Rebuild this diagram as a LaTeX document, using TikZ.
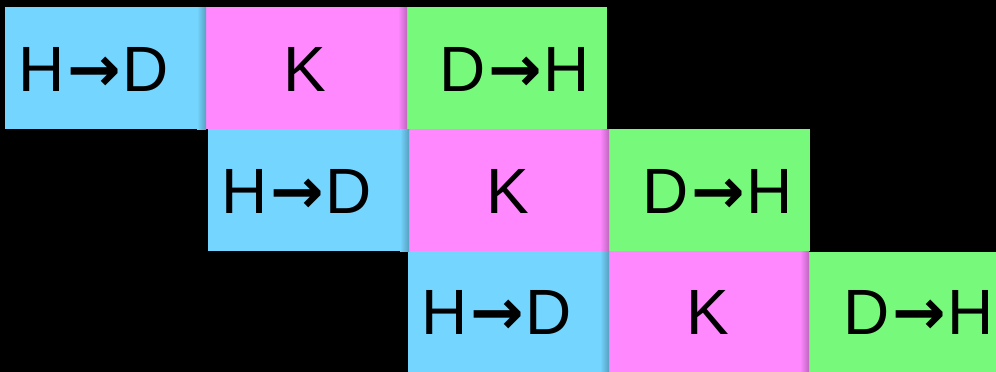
\documentclass[tikz,border=0pt]{standalone}
\usepackage{fontspec}
\setmainfont{Liberation Sans}
\newfontfamily\arrowfont{DejaVu Sans Bold}
\definecolor{cblue}{HTML}{74D5FF}
\definecolor{cpink}{HTML}{FF88FF}
\definecolor{cgreen}{HTML}{77FA7B}
\tikzset{
  cell/.style={draw=none, minimum width=200pt, minimum height=122pt, inner sep=0pt, outer sep=0pt, anchor=north west},
  lbl/.style={font=\fontsize{64pt}{64pt}\selectfont, text=black, inner sep=0pt},
}
\newcommand{\cellshadow}[2]{%
  \shade[left color=#2, right color=#2!75!black] ([xshift=-9pt]#1.north east) rectangle (#1.south east);
}
\newcommand{\lblHtoD}{H\kern2pt{\arrowfont →}\kern2pt D}
\newcommand{\lblDtoH}{D\kern2pt{\arrowfont →}\kern2pt H}
\begin{document}
\begin{tikzpicture}[x=1pt,y=-1pt]
\fill[black] (0,0) rectangle (996,372);
\useasboundingbox (0,0) rectangle (996,372);
% row 1
\node[cell, fill=cblue, minimum width=201pt] (b1) at (5,7) {};
\node[cell, fill=cpink, minimum width=201pt] (p1) at (206,7) {};
\node[cell, fill=cgreen, minimum width=201pt] (g1) at (406,7) {};
% row 2
\node[cell, fill=cblue, minimum width=201pt] (b2) at (208,129) {};
\node[cell, fill=cpink, minimum width=200pt] (p2) at (409,129) {};
\node[cell, fill=cgreen, minimum width=201pt] (g2) at (609,129) {};
% row 3
\node[cell, fill=cblue, minimum width=201pt, minimum height=121pt] (b3) at (408,251) {};
\node[cell, fill=cpink, minimum width=201pt, minimum height=121pt] (p3) at (608,251) {};
\node[cell, fill=cgreen, minimum width=201pt, minimum height=121pt] (g3) at (809,252) {};
% shadows
\cellshadow{b1}{cblue}
\cellshadow{p1}{cpink}
\cellshadow{b2}{cblue}
\cellshadow{p2}{cpink}
\cellshadow{b3}{cblue}
\cellshadow{p3}{cpink}
% labels
\node[lbl] (t1) at (94,69) {\lblHtoD};
\node[lbl] (t2) at (305,69) {K};
\node[lbl] (t3) at (515,69) {\lblDtoH};
\node[lbl] (t4) at (297,191) {\lblHtoD};
\node[lbl] (t5) at (508,191) {K};
\node[lbl] (t6) at (718,191) {\lblDtoH};
\node[lbl] (t7) at (497,312) {\lblHtoD};
\node[lbl] (t8) at (708,312) {K};
\node[lbl] (t9) at (919,312) {\lblDtoH};
\end{tikzpicture}
\end{document}
